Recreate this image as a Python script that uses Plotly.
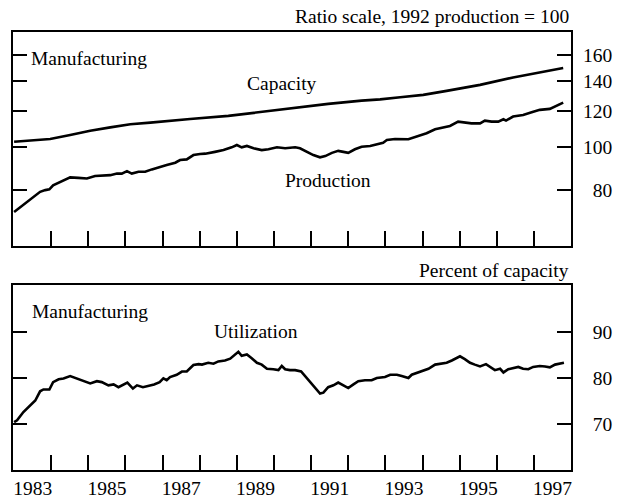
import math
import plotly.graph_objects as go
from plotly.subplots import make_subplots

# ---------------- data ----------------
cap_t = [1983.00, 1983.43, 1983.97, 1984.51, 1985.05, 1985.59, 1986.13, 1986.67,
         1987.20, 1987.74, 1988.77, 1989.67, 1990.57, 1991.46, 1992.36, 1992.86,
         1993.40, 1994.02, 1994.65, 1995.55, 1996.44, 1997.16, 1997.79]
cap_v = [102.6, 103.2, 104.1, 106.2, 108.6, 110.5, 112.3, 113.2,
         114.4, 115.4, 117.2, 119.8, 122.3, 124.7, 126.8, 127.6,
         129.0, 130.6, 133.3, 137.5, 142.8, 146.6, 149.9]

prod_t = [1983.00, 1983.17, 1983.35, 1983.52, 1983.70, 1983.84, 1983.95, 1984.05,
          1984.24, 1984.51, 1984.73, 1984.96, 1985.18, 1985.41, 1985.59, 1985.77,
          1985.90, 1986.04, 1986.17, 1986.35, 1986.53, 1986.71, 1986.93, 1987.11,
          1987.34, 1987.47, 1987.65, 1987.83, 1988.01, 1988.15, 1988.41, 1988.64,
          1988.86, 1989.00, 1989.13, 1989.27, 1989.45, 1989.67, 1989.85, 1990.08,
          1990.30, 1990.57, 1990.70, 1990.88, 1991.06, 1991.24, 1991.38, 1991.56,
          1991.73, 1991.87, 1992.00, 1992.18, 1992.36, 1992.59, 1992.77, 1992.94,
          1993.04, 1993.26, 1993.62, 1993.75, 1993.98, 1994.11, 1994.34, 1994.52,
          1994.74, 1994.96, 1995.10, 1995.32, 1995.55, 1995.68, 1995.86, 1996.04,
          1996.18, 1996.25, 1996.44, 1996.71, 1996.94, 1997.16, 1997.43, 1997.61,
          1997.79]
prod_v = [71.5, 73.4, 75.3, 77.2, 79.3, 80.0, 80.3, 82.0,
          83.5, 85.4, 85.2, 84.9, 86.0, 86.4, 86.4, 87.1,
          87.1, 88.2, 87.1, 87.9, 87.9, 89.0, 90.2, 91.0,
          92.1, 93.4, 93.7, 95.8, 96.3, 96.5, 97.4, 98.3,
          99.7, 100.9, 99.7, 100.4, 99.2, 98.3, 98.7, 99.7,
          99.2, 99.7, 99.2, 97.4, 95.8, 94.7, 95.3, 96.9,
          97.9, 97.4, 96.9, 98.7, 100.0, 100.4, 101.4, 102.1,
          103.5, 104.1, 103.9, 104.8, 106.2, 107.2, 109.4, 110.3,
          111.3, 113.8, 113.4, 112.8, 112.8, 114.4, 113.8, 113.8,
          115.2, 114.4, 116.8, 117.8, 119.4, 120.9, 121.5, 123.4,
          125.5]

util_t = [1983.00, 1983.08, 1983.25, 1983.43, 1983.57, 1983.70, 1983.79, 1983.95,
          1984.05, 1984.20, 1984.33, 1984.51, 1984.69, 1984.87, 1985.05, 1985.23,
          1985.36, 1985.54, 1985.68, 1985.81, 1985.95, 1986.05, 1986.20, 1986.31,
          1986.47, 1986.62, 1986.77, 1986.92, 1987.02, 1987.11, 1987.20, 1987.38,
          1987.52, 1987.65, 1987.83, 1987.97, 1988.06, 1988.23, 1988.37, 1988.50,
          1988.68, 1988.82, 1988.93, 1989.04, 1989.13, 1989.27, 1989.40, 1989.54,
          1989.67, 1989.81, 1989.98, 1990.12, 1990.21, 1990.30, 1990.43, 1990.57,
          1990.73, 1990.84, 1990.97, 1991.11, 1991.24, 1991.33, 1991.46, 1991.60,
          1991.73, 1991.87, 1992.00, 1992.14, 1992.27, 1992.45, 1992.63, 1992.77,
          1992.90, 1992.99, 1993.13, 1993.31, 1993.44, 1993.62, 1993.71, 1993.89,
          1994.02, 1994.16, 1994.34, 1994.47, 1994.65, 1994.79, 1994.90, 1995.01,
          1995.14, 1995.28, 1995.41, 1995.55, 1995.71, 1995.82, 1995.95, 1996.09,
          1996.18, 1996.31, 1996.44, 1996.58, 1996.71, 1996.85, 1996.98, 1997.16,
          1997.30, 1997.43, 1997.57, 1997.70, 1997.81]
util_v = [70.4, 70.8, 72.6, 74.1, 75.1, 77.1, 77.5, 77.5,
          79.1, 79.7, 79.9, 80.4, 79.9, 79.3, 78.8, 79.3,
          79.1, 78.4, 78.6, 78.0, 78.6, 79.0, 77.7, 78.4,
          78.0, 78.3, 78.6, 79.1, 79.9, 79.5, 80.2, 80.7,
          81.4, 81.4, 82.8, 83.0, 82.9, 83.3, 83.1, 83.6,
          83.8, 84.2, 84.9, 85.7, 84.8, 85.1, 84.3, 83.3,
          82.9, 82.0, 81.9, 81.7, 82.6, 81.9, 81.7, 81.7,
          81.4, 80.4, 79.1, 77.8, 76.6, 76.8, 78.0, 78.4,
          79.0, 78.4, 77.8, 78.6, 79.3, 79.5, 79.5, 80.0,
          80.2, 80.2, 80.7, 80.7, 80.4, 80.0, 80.7, 81.2,
          81.7, 82.0, 82.9, 83.1, 83.3, 83.8, 84.3, 84.7,
          84.1, 83.3, 82.9, 82.5, 83.0, 82.4, 81.7, 82.0,
          81.2, 81.9, 82.2, 82.4, 82.0, 81.9, 82.4, 82.6,
          82.5, 82.3, 82.9, 83.1, 83.3]

year_ticks = list(range(1984, 1998))
year_label_pos = [1983.5, 1985.5, 1987.5, 1989.5, 1991.5, 1993.5, 1995.5, 1997.5]
year_labels = ["1983", "1985", "1987", "1989", "1991", "1993", "1995", "1997"]
top_ticks = [80, 100, 120, 140, 160]
top_ticktext = ["\u200780", "100", "120", "140", "160"]
bot_ticks = [70, 80, 90]
bot_ticktext = ["\u200770", "\u200780", "\u200790"]

FONT = "Liberation Serif"
FS = 19.5
BLACK = "#000000"

fig = make_subplots(rows=2, cols=1, shared_xaxes=False, vertical_spacing=0.0)

line_style = dict(color=BLACK, width=2.6)
fig.add_trace(go.Scatter(x=cap_t, y=cap_v, mode="lines", line=line_style,
                         name="Capacity", showlegend=False, hoverinfo="skip"), row=1, col=1)
fig.add_trace(go.Scatter(x=prod_t, y=prod_v, mode="lines", line=line_style,
                         name="Production", showlegend=False, hoverinfo="skip"), row=1, col=1)
fig.add_trace(go.Scatter(x=util_t, y=util_v, mode="lines", line=line_style,
                         name="Utilization", showlegend=False, hoverinfo="skip"), row=2, col=1)

xcommon = dict(range=[1982.97, 1998.0], showgrid=False, zeroline=False,
               showline=True, linecolor=BLACK, linewidth=2, mirror=True,
               tickmode="array", tickvals=year_label_pos, ticktext=year_labels,
               ticks="", automargin=False, ticklabelstandoff=0,
               minor=dict(tickmode="array", tickvals=year_ticks, ticks="inside",
                          ticklen=15, tickwidth=2, tickcolor=BLACK, showgrid=False),
               tickfont=dict(family=FONT, size=FS, color=BLACK))

fig.update_xaxes(**xcommon)
fig.update_xaxes(showticklabels=False, row=1, col=1)
fig.update_xaxes(showticklabels=True, row=2, col=1)

top_dom = [(470 - 246) / 438, 1.0]
bot_dom = [0.0, 185 / 438]
fig.update_layout(xaxis=dict(domain=[0, 1]), xaxis2=dict(domain=[0, 1]),
                  yaxis=dict(domain=top_dom), yaxis2=dict(domain=bot_dom))

ycommon = dict(showgrid=False, zeroline=False, side="right",
               showline=True, linecolor=BLACK, linewidth=2, mirror="ticks",
               ticks="inside", ticklen=14, tickwidth=2, tickcolor=BLACK,
               ticklabelstandoff=6, automargin=False,
               tickfont=dict(family=FONT, size=FS, color=BLACK))
fig.update_yaxes(**ycommon)
fig.update_yaxes(type="log", range=[math.log10(60), math.log10(180.5)],
                 tickmode="array", tickvals=top_ticks, ticktext=top_ticktext,
                 row=1, col=1)
fig.update_yaxes(range=[60, 100.2], tickmode="array", tickvals=bot_ticks,
                 ticktext=bot_ticktext, row=2, col=1)

tfont = dict(family=FONT, size=FS, color=BLACK)
ann = [
    dict(text="Ratio scale, 1992 production = 100", xref="x domain", yref="y domain",
         x=1.0, y=1.074, xanchor="right", yanchor="middle"),
    dict(text="Manufacturing", xref="x domain", yref="y domain",
         x=0.029, y=0.877, xanchor="left", yanchor="middle"),
    dict(text="Capacity", xref="x domain", yref="y domain",
         x=0.415, y=0.758, xanchor="left", yanchor="middle"),
    dict(text="Production", xref="x domain", yref="y domain",
         x=0.484, y=0.304, xanchor="left", yanchor="middle"),
    dict(text="Percent of capacity", xref="x2 domain", yref="y2 domain",
         x=1.0, y=1.078, xanchor="right", yanchor="middle"),
    dict(text="Manufacturing", xref="x2 domain", yref="y2 domain",
         x=0.031, y=0.859, xanchor="left", yanchor="middle"),
    dict(text="Utilization", xref="x2 domain", yref="y2 domain",
         x=0.357, y=0.746, xanchor="left", yanchor="middle"),
]
for a in ann:
    a.update(showarrow=False, font=tfont)

fig.update_layout(
    width=632, height=498,
    margin=dict(l=13, r=61, t=32, b=28, pad=0, autoexpand=False),
    paper_bgcolor="white", plot_bgcolor="white",
    annotations=ann,
    font=dict(family=FONT, size=FS, color=BLACK),
    showlegend=False,
)

fig.write_html("out.html", config={"displayModeBar": False, "staticPlot": True},
               post_script="document.body.style.margin='0';document.body.style.padding='0';")
